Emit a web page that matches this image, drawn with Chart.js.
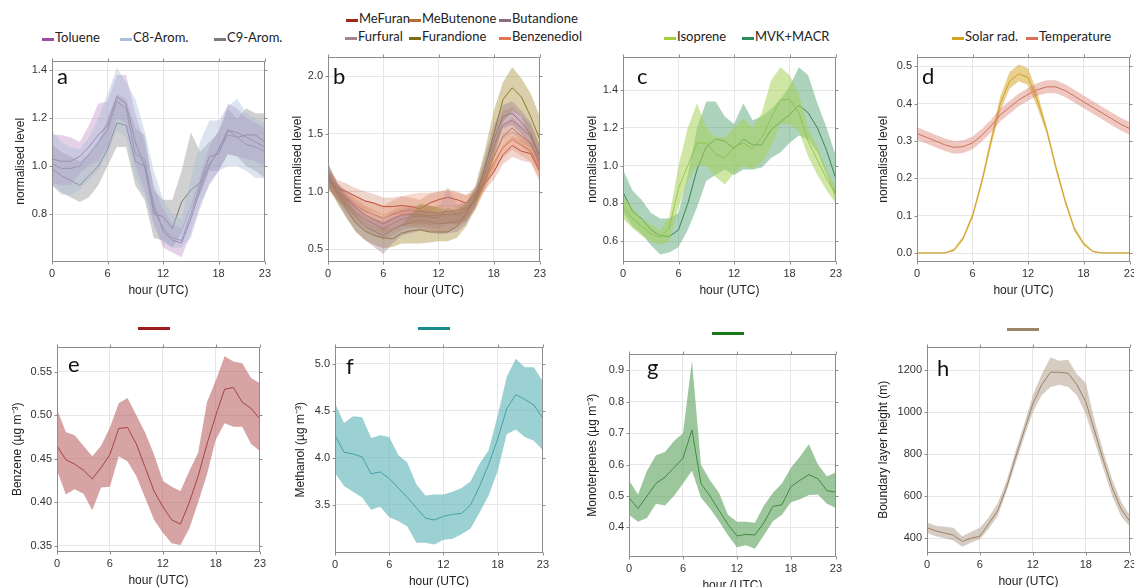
<!DOCTYPE html>
<html>
<head>
<meta charset="utf-8">
<script src="https://cdn.jsdelivr.net/npm/chart.js@4"></script>
<style>
body { margin: 0; width: 1134px; height: 587px; overflow: hidden; background: #fff; position: relative; font-family: Lato, sans-serif; }
canvas { position: absolute; }
.lg { position: absolute; font-size: 13px; color: #222; white-space: nowrap; line-height: 16px; }
.sw { display: inline-block; width: 12px; height: 3px; vertical-align: 1px; margin-right: 1px; }
.bar { position: absolute; height: 3px; width: 32px; }
</style>
</head>
<body>
<div id="wrap"></div>
<script>
// hours and axis ticks
const hours = [0,1,2,3,4,5,6,7,8,9,10,11,12,13,14,15,16,17,18,19,20,21,22,23];
const hourTicks = [0, 6, 12, 18, 23];

const ticksA = [0.8, 1.0, 1.2, 1.4];
const ticksB = [0.5, 1.0, 1.5, 2.0];
const ticksC = [0.6, 0.8, 1.0, 1.2, 1.4];
const ticksD = [0.0, 0.1, 0.2, 0.3, 0.4, 0.5];
const ticksE = [0.35, 0.40, 0.45, 0.50, 0.55];
const ticksF = [3.5, 4.0, 4.5, 5.0];
const ticksG = [0.4, 0.5, 0.6, 0.7, 0.8, 0.9];
const ticksH = [400, 600, 800, 1000, 1200];

// panel a - aromatics
const tolueneMean = [1.03,1.02,1.02,1.04,1.08,1.13,1.17,1.29,1.26,1.10,1.00,0.84,0.73,0.69,0.68,0.78,0.90,1.00,1.07,1.15,1.14,1.12,1.10,1.08];
const tolueneHi   = [1.13,1.13,1.12,1.10,1.17,1.26,1.27,1.38,1.38,1.22,1.10,0.92,0.82,0.76,0.74,0.84,0.96,1.08,1.15,1.26,1.24,1.20,1.18,1.16];
const tolueneLo   = [0.93,0.92,0.92,0.97,1.00,1.02,1.08,1.20,1.18,1.00,0.90,0.76,0.66,0.64,0.62,0.72,0.84,0.92,0.98,1.05,1.04,1.03,1.02,1.00];
const c8Mean = [1.01,0.99,0.99,1.00,1.05,1.10,1.15,1.27,1.24,1.05,1.03,0.82,0.74,0.70,0.69,0.80,0.92,1.01,1.06,1.13,1.12,1.09,1.08,1.06];
const c8Hi   = [1.15,1.10,1.08,1.07,1.12,1.20,1.30,1.41,1.35,1.28,1.15,0.98,0.86,0.80,0.78,0.95,1.10,1.19,1.19,1.25,1.28,1.22,1.20,1.18];
const c8Lo   = [0.92,0.88,0.88,0.90,0.94,0.98,1.05,1.15,1.12,0.95,0.88,0.75,0.68,0.66,0.66,0.70,0.82,0.93,0.98,1.00,1.00,0.98,0.95,0.95];
const c9Mean = [0.99,0.96,0.94,0.92,0.96,1.00,1.07,1.18,1.17,1.02,1.00,0.80,0.79,0.74,0.85,0.90,0.93,1.04,1.05,1.15,1.12,1.13,1.13,1.10];
const c9Hi   = [1.09,1.06,1.04,1.02,1.05,1.10,1.20,1.30,1.28,1.16,1.13,0.90,0.86,0.86,0.98,1.14,1.06,1.10,1.14,1.24,1.20,1.24,1.22,1.22];
const c9Lo   = [0.92,0.89,0.87,0.85,0.87,0.92,1.00,1.08,1.08,0.92,0.86,0.70,0.69,0.66,0.72,0.82,0.88,0.98,0.98,1.05,1.04,1.00,0.98,0.95];

// panel b - furans etc
const meFuranMean = [1.12,1.03,1.00,0.96,0.92,0.90,0.87,0.87,0.88,0.87,0.85,0.90,0.93,0.95,0.93,0.90,0.98,1.07,1.17,1.32,1.40,1.35,1.33,1.17];
const meFuranHi   = [1.20,1.10,1.07,1.03,1.00,0.98,0.95,0.95,0.96,0.95,0.93,0.98,1.00,1.02,1.00,0.97,1.04,1.13,1.25,1.40,1.48,1.45,1.42,1.27];
const meFuranLo   = [1.04,0.96,0.93,0.89,0.84,0.82,0.79,0.80,0.80,0.79,0.77,0.82,0.86,0.88,0.86,0.83,0.92,1.01,1.10,1.24,1.30,1.27,1.25,1.08];
const meButenoneMean = [1.10,1.00,0.93,0.86,0.80,0.76,0.72,0.76,0.80,0.80,0.80,0.79,0.80,0.80,0.80,0.83,0.92,1.10,1.30,1.48,1.55,1.48,1.42,1.25];
const meButenoneHi   = [1.18,1.07,1.00,0.94,0.88,0.84,0.80,0.84,0.88,0.88,0.88,0.87,0.88,0.88,0.88,0.90,0.99,1.18,1.40,1.58,1.64,1.57,1.51,1.34];
const meButenoneLo   = [1.02,0.93,0.86,0.78,0.72,0.68,0.64,0.68,0.72,0.72,0.72,0.71,0.72,0.72,0.72,0.76,0.85,1.02,1.20,1.38,1.46,1.39,1.33,1.16];
const butandioneMean = [1.15,1.00,0.88,0.78,0.70,0.66,0.62,0.67,0.71,0.73,0.75,0.74,0.72,0.73,0.74,0.80,0.95,1.20,1.45,1.65,1.68,1.60,1.50,1.30];
const butandioneHi   = [1.25,1.08,0.97,0.88,0.80,0.76,0.74,0.78,0.80,0.82,0.84,0.83,0.82,0.83,0.83,0.88,1.02,1.30,1.58,1.75,1.78,1.70,1.60,1.40];
const butandioneLo   = [1.05,0.92,0.78,0.66,0.58,0.52,0.46,0.55,0.62,0.64,0.66,0.65,0.63,0.64,0.65,0.72,0.88,1.10,1.33,1.55,1.58,1.50,1.40,1.20];
const furfuralMean = [1.12,1.00,0.90,0.82,0.76,0.72,0.68,0.72,0.76,0.78,0.79,0.78,0.77,0.86,0.80,0.83,0.95,1.15,1.40,1.58,1.62,1.55,1.48,1.30];
const furfuralHi   = [1.21,1.08,0.98,0.91,0.85,0.81,0.78,0.82,0.85,0.87,0.88,0.87,0.86,1.04,0.89,0.91,1.03,1.25,1.52,1.70,1.73,1.66,1.58,1.40];
const furfuralLo   = [1.03,0.92,0.82,0.73,0.67,0.63,0.58,0.62,0.67,0.69,0.70,0.69,0.68,0.72,0.71,0.75,0.87,1.05,1.28,1.46,1.51,1.44,1.38,1.20];
const furandioneMean = [1.15,0.98,0.85,0.73,0.66,0.62,0.60,0.59,0.64,0.66,0.67,0.65,0.65,0.65,0.70,0.80,0.95,1.20,1.50,1.80,1.90,1.82,1.65,1.45];
const furandioneHi   = [1.25,1.06,0.94,0.82,0.74,0.70,0.68,0.68,0.72,0.80,0.90,0.88,0.86,0.84,0.85,0.90,1.05,1.35,1.70,1.95,2.08,1.98,1.85,1.65];
const furandioneLo   = [1.05,0.90,0.77,0.65,0.58,0.54,0.51,0.52,0.55,0.55,0.55,0.56,0.57,0.57,0.60,0.70,0.85,1.05,1.30,1.60,1.70,1.65,1.45,1.25];
const benzenediolMean = [1.10,1.00,0.94,0.88,0.83,0.80,0.77,0.80,0.83,0.84,0.83,0.82,0.82,0.83,0.84,0.85,0.92,1.08,1.25,1.38,1.45,1.40,1.35,1.20];
const benzenediolHi   = [1.18,1.07,1.01,0.96,0.92,0.90,0.88,0.92,0.96,0.98,0.99,0.99,1.00,1.00,0.99,0.97,1.00,1.15,1.33,1.48,1.52,1.49,1.44,1.29];
const benzenediolLo   = [1.02,0.93,0.87,0.80,0.74,0.70,0.66,0.68,0.70,0.70,0.68,0.66,0.65,0.66,0.69,0.74,0.84,1.00,1.17,1.29,1.36,1.31,1.26,1.11];

// panel c - isoprene
const isopreneMean = [0.78,0.72,0.68,0.64,0.62,0.67,0.88,1.00,1.12,1.12,1.06,1.04,1.10,1.12,1.09,1.15,1.25,1.35,1.35,1.28,1.13,1.03,0.93,0.85];
const isopreneHi   = [0.84,0.78,0.72,0.69,0.66,0.73,1.00,1.20,1.33,1.20,1.15,1.15,1.20,1.25,1.20,1.28,1.45,1.52,1.48,1.38,1.20,1.10,0.98,0.88];
const isopreneLo   = [0.72,0.67,0.63,0.60,0.58,0.60,0.78,0.92,1.00,1.00,0.94,0.90,0.96,1.00,0.98,1.02,1.10,1.22,1.22,1.18,1.05,0.95,0.87,0.80];
const mvkMean = [0.86,0.76,0.72,0.66,0.63,0.625,0.66,0.80,0.98,1.10,1.14,1.13,1.09,1.14,1.11,1.11,1.19,1.23,1.27,1.32,1.28,1.20,1.08,0.93];
const mvkHi   = [0.98,0.87,0.82,0.75,0.72,0.72,0.75,0.95,1.20,1.34,1.34,1.26,1.22,1.33,1.24,1.26,1.30,1.35,1.42,1.52,1.48,1.33,1.20,1.05];
const mvkLo   = [0.75,0.68,0.64,0.58,0.53,0.54,0.57,0.66,0.78,0.92,0.95,0.98,0.95,0.98,0.98,0.99,1.04,1.07,1.12,1.16,1.14,1.07,0.95,0.82];

// panel d - meteorology
const solarMean = [0,0,0,0,0.008,0.04,0.10,0.19,0.30,0.40,0.46,0.48,0.47,0.41,0.33,0.23,0.14,0.065,0.025,0.004,0,0,0,0];
const solarHi   = [0.002,0.002,0.002,0.002,0.012,0.046,0.108,0.20,0.315,0.42,0.485,0.505,0.495,0.43,0.34,0.24,0.148,0.072,0.03,0.007,0.002,0.002,0.002,0.002];
const solarLo   = [0,0,0,0,0.004,0.034,0.092,0.18,0.285,0.38,0.44,0.46,0.45,0.39,0.32,0.22,0.132,0.058,0.02,0.002,0,0,0,0];
const tempMean = [0.320,0.310,0.300,0.290,0.283,0.285,0.295,0.315,0.340,0.370,0.390,0.410,0.425,0.437,0.445,0.445,0.435,0.420,0.405,0.390,0.375,0.360,0.345,0.333];
const tempHi   = [0.337,0.327,0.317,0.307,0.300,0.302,0.312,0.332,0.357,0.387,0.407,0.427,0.442,0.455,0.463,0.463,0.452,0.437,0.422,0.407,0.392,0.377,0.362,0.350];
const tempLo   = [0.303,0.293,0.283,0.273,0.266,0.268,0.278,0.298,0.323,0.353,0.373,0.393,0.408,0.421,0.428,0.428,0.418,0.403,0.388,0.373,0.358,0.343,0.328,0.316];

// panel e - benzene
const benzeneMean = [0.465,0.449,0.444,0.437,0.427,0.440,0.455,0.485,0.486,0.467,0.440,0.413,0.395,0.380,0.375,0.400,0.430,0.467,0.500,0.530,0.532,0.515,0.508,0.496];
const benzeneHi   = [0.507,0.481,0.477,0.465,0.453,0.465,0.486,0.514,0.520,0.500,0.480,0.455,0.425,0.418,0.413,0.436,0.457,0.515,0.540,0.568,0.562,0.560,0.543,0.537];
const benzeneLo   = [0.437,0.409,0.415,0.410,0.391,0.417,0.418,0.453,0.447,0.430,0.405,0.380,0.365,0.353,0.351,0.370,0.400,0.432,0.472,0.491,0.487,0.487,0.467,0.459];

// panel f - methanol
const methanolMean = [4.24,4.06,4.04,4.01,3.83,3.85,3.78,3.68,3.58,3.47,3.36,3.34,3.38,3.40,3.41,3.50,3.70,3.93,4.20,4.52,4.67,4.62,4.56,4.42];
const methanolHi   = [4.58,4.37,4.44,4.43,4.21,4.24,4.22,4.03,3.95,3.72,3.60,3.61,3.61,3.64,3.68,3.75,3.94,4.08,4.45,4.86,5.05,4.96,4.96,4.81];
const methanolLo   = [3.84,3.70,3.64,3.58,3.45,3.48,3.37,3.33,3.27,3.10,3.10,3.08,3.13,3.14,3.19,3.25,3.42,3.60,3.86,4.25,4.30,4.22,4.18,4.08];

// panel g - monoterpenes
const monoMean = [0.495,0.460,0.500,0.540,0.560,0.590,0.620,0.710,0.540,0.500,0.455,0.410,0.373,0.378,0.376,0.415,0.467,0.472,0.530,0.550,0.568,0.555,0.517,0.512];
const monoHi   = [0.550,0.505,0.580,0.630,0.640,0.675,0.700,0.930,0.600,0.550,0.510,0.440,0.418,0.418,0.415,0.470,0.510,0.540,0.590,0.625,0.665,0.600,0.563,0.575];
const monoLo   = [0.440,0.418,0.430,0.475,0.470,0.500,0.540,0.580,0.495,0.460,0.420,0.375,0.337,0.343,0.332,0.375,0.420,0.440,0.480,0.490,0.503,0.505,0.475,0.462];

// panel h - boundary layer height
const blhMean = [450,435,425,415,385,400,410,470,530,640,780,910,1040,1130,1190,1190,1185,1130,1050,910,770,640,540,480];
const blhHi   = [475,460,455,450,410,430,450,500,565,670,810,940,1080,1180,1260,1245,1250,1180,1140,960,810,680,575,510];
const blhLo   = [425,410,400,390,360,380,395,445,505,620,750,880,1000,1080,1120,1130,1120,1080,990,860,730,600,505,455];

// one entry per series: upper edge, lower edge, mean, band colour, line colour
function band(hi, lo, mean, fillColor, lineColor) {
    return { hi, lo, mean, fillColor, lineColor };
}

const panels = [
    { letter: 'a', rect: [52, 57, 268, 262], axisW: 43, yMin: 0.6, yMax: 1.44, ticks: ticksA, dec: 1, lx: 5, ly: 23,
      title: 'normalised level',
      series: [
        band(c8Hi, c8Lo, c8Mean, 'rgba(165,188,215,0.40)', '#8c8aa0'),
        band(tolueneHi, tolueneLo, tolueneMean, 'rgba(176,118,186,0.33)', '#86668c'),
        band(c9Hi, c9Lo, c9Mean, 'rgba(135,135,135,0.38)', '#6f6f6f')
      ] },
    { letter: 'b', rect: [328, 53, 543, 262], axisW: 42, yMin: 0.39, yMax: 2.17, ticks: ticksB, dec: 1, lx: 5, ly: 27,
      title: 'normalised level',
      series: [
        band(butandioneHi, butandioneLo, butandioneMean, 'rgba(150,115,140,0.35)', '#8a6c7c'),
        band(furandioneHi, furandioneLo, furandioneMean, 'rgba(165,140,55,0.42)', '#7f6b16'),
        band(furfuralHi, furfuralLo, furfuralMean, 'rgba(185,130,140,0.30)', '#a88490'),
        band(meFuranHi, meFuranLo, meFuranMean, 'rgba(205,115,90,0.30)', '#a3261a'),
        band(meButenoneHi, meButenoneLo, meButenoneMean, 'rgba(205,130,80,0.30)', '#b86a38'),
        band(benzenediolHi, benzenediolLo, benzenediolMean, 'rgba(232,130,90,0.30)', '#e3764f')
      ] },
    { letter: 'c', rect: [623, 53, 839, 262], axisW: 42, yMin: 0.49, yMax: 1.577, ticks: ticksC, dec: 1, lx: 14, ly: 27,
      title: 'normalised level',
      series: [
        band(isopreneHi, isopreneLo, isopreneMean, 'rgba(168,210,90,0.55)', '#8cbf3a'),
        band(mvkHi, mvkLo, mvkMean, 'rgba(60,150,95,0.42)', '#2f7a52')
      ] },
    { letter: 'd', rect: [917, 53, 1133, 262], axisW: 45, yMin: -0.024, yMax: 0.526, ticks: ticksD, dec: 1, lx: 5, ly: 27,
      title: 'normalised level',
      series: [
        band(tempHi, tempLo, tempMean, 'rgba(215,120,100,0.40)', '#c86a55'),
        band(solarHi, solarLo, solarMean, 'rgba(215,170,50,0.55)', '#c9961a')
      ] },
    { letter: 'e', rect: [57, 343, 263, 552], axisW: 51, yMin: 0.343, yMax: 0.579, ticks: ticksE, dec: 2, lx: 11, ly: 25,
      title: 'Benzene (\u00b5g m\u207b\u00b3)',
      series: [ band(benzeneHi, benzeneLo, benzeneMean, 'rgba(180,90,90,0.55)', '#962828') ] },
    { letter: 'f', rect: [335, 343, 546, 553], axisW: 46, yMin: 2.99, yMax: 5.18, ticks: ticksF, dec: 1, lx: 11, ly: 27,
      title: 'Methanol (\u00b5g m\u207b\u00b3)',
      series: [ band(methanolHi, methanolLo, methanolMean, 'rgba(95,180,185,0.62)', '#1b8080') ] },
    { letter: 'g', rect: [629, 350, 839, 557], axisW: 48, yMin: 0.306, yMax: 0.953, ticks: ticksG, dec: 1, lx: 18, ly: 21,
      title: 'Monoterpenes (\u00b5g m\u207b\u00b3)',
      series: [ band(monoHi, monoLo, monoMean, 'rgba(90,160,90,0.60)', '#1e6a1e') ] },
    { letter: 'h', rect: [927, 343, 1133, 553], axisW: 55, yMin: 330, yMax: 1312, ticks: ticksH, dec: 0, lx: 10, ly: 29,
      title: 'Boundary layer height (m)',
      series: [ band(blhHi, blhLo, blhMean, 'rgba(170,148,125,0.48)', '#8a7256') ] }
];

// legends (text start x, centre y)
const legendItems = [
    ['Toluene', '#9a4e9e', 55, 37], ['C8-Arom.', '#a9bfd9', 133, 37], ['C9-Arom.', '#7a7a7a', 227, 37],
    ['MeFuran', '#a3261a', 359, 18], ['MeButenone', '#b86a38', 422, 18], ['Butandione', '#8a6c7c', 512, 18],
    ['Furfural', '#a88490', 358, 36], ['Furandione', '#7f6b16', 422, 36], ['Benzenediol', '#e3764f', 512, 36],
    ['Isoprene', '#a6cf3c', 677, 36], ['MVK+MACR', '#2f8a5a', 755, 36],
    ['Solar rad.', '#d4a21e', 965, 36], ['Temperature', '#d4735a', 1039, 36]
];
const legendBars = [
    ['#9b1c1c', 138, 327], ['#1b8a8a', 418, 327], ['#1a7a1a', 712, 332], ['#9c8468', 1007, 328]
];

const wrap = document.getElementById('wrap');

legendItems.forEach(([text, color, x, y]) => {
    const el = document.createElement('div');
    el.className = 'lg';
    el.style.left = (x - 13) + 'px';
    el.style.top = (y - 8) + 'px';
    el.innerHTML = `<span class="sw" style="background:${color}"></span>${text}`;
    wrap.appendChild(el);
});
legendBars.forEach(([color, x, y]) => {
    const el = document.createElement('div');
    el.className = 'bar';
    el.style.left = x + 'px';
    el.style.top = y + 'px';
    el.style.background = color;
    wrap.appendChild(el);
});

// frame, mirrored ticks and panel letter
const framePlugin = {
    id: 'frame',
    afterDraw(chart, args, opts) {
        const { ctx, chartArea: a, scales } = chart;
        ctx.save();
        ctx.strokeStyle = '#8c8c8c';
        ctx.lineWidth = 1;
        const L = Math.round(a.left) + 0.5, R = Math.round(a.right) - 0.5;
        const T = Math.round(a.top) + 0.5, B = Math.round(a.bottom) - 0.5;
        ctx.strokeRect(L, T, R - L, B - T);
        ctx.beginPath();
        scales.x.ticks.forEach(t => {
            const px = Math.round(scales.x.getPixelForValue(t.value)) + 0.5;
            ctx.moveTo(px, B); ctx.lineTo(px, B + 3);
            ctx.moveTo(px, T); ctx.lineTo(px, T - 3);
        });
        scales.y.ticks.forEach(t => {
            const py = Math.round(scales.y.getPixelForValue(t.value)) + 0.5;
            ctx.moveTo(L, py); ctx.lineTo(L - 3, py);
            ctx.moveTo(R, py); ctx.lineTo(R + 3, py);
        });
        ctx.stroke();
        ctx.fillStyle = '#111';
        ctx.font = '22px Lato, "Open Sans", sans-serif';
        ctx.textBaseline = 'alphabetic';
        ctx.fillText(opts.letter, a.left + opts.lx, a.top + opts.ly);
        ctx.restore();
    }
};

panels.forEach(p => {
    const [L, T, R, B] = p.rect;
    const padT = 8, padR = 8, axisH = 40;
    const w = p.axisW + (R - L) + padR;
    const h = padT + (B - T) + axisH;
    const canvas = document.createElement('canvas');
    canvas.width = w;
    canvas.height = h;
    canvas.style.left = (L - p.axisW) + 'px';
    canvas.style.top = (T - padT) + 'px';
    canvas.style.width = w + 'px';
    canvas.style.height = h + 'px';
    wrap.appendChild(canvas);

    const datasets = [];
    p.series.forEach(s => {
        datasets.push({ data: s.hi, fill: '+1', backgroundColor: s.fillColor, borderWidth: 0, pointRadius: 0, tension: 0 });
        datasets.push({ data: s.lo, fill: false, borderWidth: 0, pointRadius: 0, tension: 0 });
    });
    p.series.forEach(s => {
        datasets.push({ data: s.mean, fill: false, borderColor: s.lineColor, borderWidth: 1, pointRadius: 0, tension: 0 });
    });

    new Chart(canvas, {
        type: 'line',
        data: { labels: hours, datasets: datasets },
        plugins: [framePlugin],
        options: {
            responsive: false,
            animation: false,
            events: [],
            layout: { padding: { top: padT, right: padR, left: 0, bottom: 0 } },
            plugins: {
                legend: { display: false },
                tooltip: { enabled: false },
                frame: { letter: p.letter, lx: p.lx, ly: p.ly }
            },
            scales: {
                x: {
                    type: 'linear',
                    min: 0,
                    max: 23,
                    afterBuildTicks: s => { s.ticks = hourTicks.map(v => ({ value: v })); },
                    afterFit: s => { s.height = axisH; },
                    ticks: { autoSkip: false, maxRotation: 0, padding: 5, color: '#333',
                             font: { family: '"Liberation Sans", Arial, sans-serif', size: 11 },
                             callback: v => String(v) },
                    grid: { color: '#e6e6e6', drawTicks: false },
                    border: { display: false },
                    title: { display: true, text: 'hour (UTC)', color: '#222', padding: { top: 0, bottom: 4 },
                             font: { family: '"Liberation Sans", Arial, sans-serif', size: 12 } }
                },
                y: {
                    min: p.yMin,
                    max: p.yMax,
                    afterBuildTicks: s => { s.ticks = p.ticks.map(v => ({ value: v })); },
                    afterFit: s => { s.width = p.axisW; },
                    ticks: { autoSkip: false, padding: 5, color: '#333',
                             font: { family: '"Liberation Sans", Arial, sans-serif', size: 11 },
                             callback: v => v.toFixed(p.dec) },
                    grid: { color: '#e6e6e6', drawTicks: false },
                    border: { display: false },
                    title: { display: true, text: p.title, color: '#222', padding: { top: 4, bottom: 0 },
                             font: { family: '"Liberation Sans", Arial, sans-serif', size: 12 } }
                }
            }
        }
    });
});
</script>
</body>
</html>
